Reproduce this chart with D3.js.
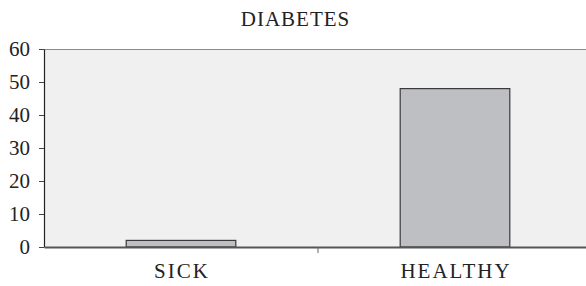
<!DOCTYPE html>
<html>
<head>
<meta charset="utf-8">
<script src="https://cdn.jsdelivr.net/npm/d3@7"></script>
<style>
  body { margin: 0; background: #fff; }
  text { font-family: "Liberation Serif", "DejaVu Serif", serif; fill: #222; }
</style>
</head>
<body>
<div id="chart"></div>
<script>
// chart data
const categories = ["SICK", "HEALTHY"];
const values = [2, 48];
const yTicks = [0, 10, 20, 30, 40, 50, 60];
const chartTitle = "DIABETES";

const width = 586, height = 286;
const margin = {top: 49, right: -6, bottom: 39, left: 44};
const innerW = width - margin.left - margin.right;
const innerH = height - margin.top - margin.bottom;

const svg = d3.select("#chart").append("svg")
    .attr("width", width)
    .attr("height", height);

//title
svg.append("text")
    .attr("x", 295).attr("y", 26)
    .attr("dx", "0.5px")
    .attr("text-anchor", "middle")
    .style("font-size", "21px")
    .style("letter-spacing", "1px")
    .text(chartTitle);

const g = svg.append("g")
    .attr("transform", `translate(${margin.left},${margin.top})`);

const x = d3.scaleBand().domain(categories).range([0, innerW]).paddingInner(0).paddingOuter(0);
const y = d3.scaleLinear().domain([0, 60]).range([innerH, 0]);

//plot background
g.append("rect")
    .attr("x", 0).attr("y", 0)
    .attr("width", innerW).attr("height", innerH)
    .attr("fill", "#f0f0f0");
g.append("line")
    .attr("x1", 0).attr("x2", innerW)
    .attr("y1", 0.5).attr("y2", 0.5)
    .attr("stroke", "#8a8a8a");

//bars
const barW = x.bandwidth() * 0.4;
g.selectAll(".bar")
    .data(values)
    .enter()
    .append("rect")
      .attr("class", "bar")
      .attr("x", (d, i) => x(categories[i]) + (x.bandwidth() - barW) / 2)
      .attr("y", d => y(d))
      .attr("width", barW)
      .attr("height", d => innerH - y(d))
      .attr("fill", "#bebfc3")
      .attr("stroke", "#3a3a3a")
      .attr("stroke-width", 1.2);

//y axis
const yAxis = g.append("g")
    .call(d3.axisLeft(y).tickValues(yTicks).tickSize(5).tickSizeOuter(0).tickPadding(9));
yAxis.select(".domain").attr("stroke", "#222").attr("stroke-width", 1.2);
yAxis.selectAll(".tick line").attr("stroke", "#444");
yAxis.selectAll("text").style("font-size", "21px").attr("fill", "#222");

//x axis
const xAxis = g.append("g")
    .attr("transform", `translate(0,${innerH})`)
    .call(d3.axisBottom(x).tickSize(0).tickSizeOuter(0).tickPadding(16));
xAxis.select(".domain").attr("stroke", "#555").attr("stroke-width", 2);
xAxis.selectAll("text")
    .style("font-size", "21px")
    .style("letter-spacing", "2px")
    .attr("dx", "1px")
    .attr("fill", "#222");
//divider tick between categories
xAxis.append("line")
    .attr("x1", x(categories[1])).attr("x2", x(categories[1]))
    .attr("y1", 0).attr("y2", 6)
    .attr("stroke", "#666");
</script>
</body>
</html>
